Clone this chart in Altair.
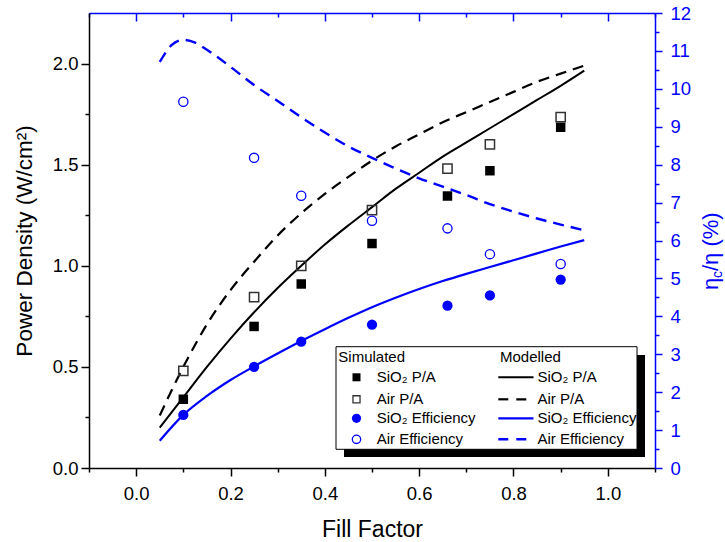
import altair as alt
import pandas as pd

# ---------------- data ----------------
ff_sim = [0.1, 0.25, 0.35, 0.5, 0.66, 0.75, 0.9]
sio2_pa_sim = [0.34, 0.70, 0.91, 1.11, 1.345, 1.47, 1.685]
air_pa_sim = [0.48, 0.845, 1.00, 1.275, 1.48, 1.60, 1.735]
sio2_eff_sim = [1.40, 2.67, 3.33, 3.78, 4.28, 4.55, 4.97]
air_eff_sim = [9.66, 8.18, 7.18, 6.52, 6.32, 5.64, 5.38]

ff_model = [0.05, 0.10, 0.15, 0.20, 0.25, 0.30, 0.35, 0.40, 0.45, 0.50,
            0.55, 0.60, 0.65, 0.70, 0.75, 0.80, 0.85, 0.90, 0.95]
sio2_pa_model = [0.20, 0.35, 0.50, 0.64, 0.77, 0.89, 1.00, 1.105, 1.20, 1.29,
                 1.38, 1.46, 1.54, 1.61, 1.68, 1.75, 1.82, 1.89, 1.965]
air_pa_model = [0.26, 0.50, 0.71, 0.88, 1.02, 1.15, 1.26, 1.355, 1.44, 1.52,
                1.59, 1.65, 1.71, 1.76, 1.81, 1.86, 1.91, 1.95, 1.99]
sio2_eff_model = [0.72, 1.40, 1.90, 2.32, 2.68, 3.02, 3.35, 3.66, 3.96, 4.24,
                  4.49, 4.72, 4.93, 5.12, 5.30, 5.48, 5.66, 5.84, 6.01]
ff_air_eff_model = [0.05, 0.075, 0.10, 0.125, 0.15, 0.20, 0.25, 0.30, 0.35, 0.40,
                    0.45, 0.50, 0.55, 0.60, 0.65, 0.70, 0.75, 0.80, 0.85, 0.90, 0.95]
air_eff_model = [10.71, 11.15, 11.29, 11.22, 11.03, 10.58, 10.10, 9.68, 9.25, 8.85,
                 8.48, 8.18, 7.90, 7.64, 7.42, 7.20, 6.96, 6.76, 6.58, 6.42, 6.27]

x_major_ticks = [0.0, 0.2, 0.4, 0.6, 0.8, 1.0]
x_minor_ticks = [-0.1, 0.1, 0.3, 0.5, 0.7, 0.9, 1.1]
yl_major_ticks = [0.0, 0.5, 1.0, 1.5, 2.0]
yl_minor_ticks = [0.25, 0.75, 1.25, 1.75]
yr_major_ticks = list(range(0, 13))
yr_minor_ticks = [0.5, 1.5, 2.5, 3.5, 4.5, 5.5, 6.5, 7.5, 8.5, 9.5, 10.5, 11.5]

# ---------------- styling ----------------
FONT = "Liberation Sans"
BLUE = "#0000FF"
W, H = 566, 455
OX, OY = 89, 13

sim_df = pd.DataFrame({"ff": ff_sim, "sio2_pa": sio2_pa_sim, "air_pa": air_pa_sim,
                       "sio2_eff": sio2_eff_sim, "air_eff": air_eff_sim})
model_df = pd.DataFrame({"ff": ff_model, "sio2_pa": sio2_pa_model,
                         "air_pa": air_pa_model, "sio2_eff": sio2_eff_model})
air_eff_df = pd.DataFrame({"ff": ff_air_eff_model, "air_eff": air_eff_model})
one = pd.DataFrame({"k": [0]})

x_scale = alt.Scale(domain=[-0.1, 1.1], nice=False, zero=False)
yl_scale = alt.Scale(domain=[0, 2.25], nice=False, zero=False)
yr_scale = alt.Scale(domain=[0, 12], nice=False, zero=False)

common = dict(grid=False, labelFlush=False, labelBound=False, tickWidth=1.5, domainWidth=1.5)

ax_x_major = alt.Axis(orient="bottom", values=x_major_ticks, format=".1f", title="Fill Factor",
                      labelFont=FONT, labelFontSize=18.5, labelColor="black", labelPadding=8,
                      tickColor="black", tickSize=8, domainColor="black",
                      titleFont=FONT, titleFontSize=23, titleFontWeight="normal", titleColor="black",
                      titleY=68, titleBaseline="alphabetic", labelOverlap=False, **common)
ax_x_minor = alt.Axis(orient="bottom", values=x_minor_ticks, labels=False, domain=False,
                      tickColor="black", tickSize=4, title=None, **common)
ax_x_top_major = alt.Axis(orient="bottom", offset=-H, values=x_major_ticks, labels=False,
                          tickColor=BLUE, tickSize=8, domainColor=BLUE, title=None, **common)
ax_x_top_minor = alt.Axis(orient="bottom", offset=-H, values=x_minor_ticks, labels=False,
                          domain=False, tickColor=BLUE, tickSize=4, title=None, **common)

ax_yl_major = alt.Axis(orient="left", values=yl_major_ticks, format=".1f",
                       title="Power Density (W/cm²)",
                       labelFont=FONT, labelFontSize=18.5, labelColor="black", labelPadding=3,
                       tickColor="black", tickSize=8, domainColor="black",
                       titleFont=FONT, titleFontSize=22.5, titleFontWeight="normal", titleColor="black",
                       titleAngle=270, titleX=31 - OX, titleY=H / 2, titleAlign="center",
                       titleBaseline="alphabetic", labelOverlap=False, **common)
ax_yl_minor = alt.Axis(orient="left", values=yl_minor_ticks, labels=False, domain=False,
                       tickColor="black", tickSize=4, title=None, **common)
ax_yr_major = alt.Axis(orient="right", values=yr_major_ticks, format="d",
                       labelFont=FONT, labelFontSize=18.5, labelColor=BLUE, labelPadding=8,
                       tickColor=BLUE, tickSize=7, domainColor=BLUE, title=None,
                       labelOverlap=False, **common)
ax_yr_minor = alt.Axis(orient="right", values=yr_minor_ticks, labels=False, domain=False,
                       tickColor=BLUE, tickSize=4, title=None, **common)


def X(axis):
    return alt.X("ff:Q", scale=x_scale, axis=axis)


# ---------------- data layers ----------------
l_sio2_pa_model = alt.Chart(model_df).mark_line(color="black", strokeWidth=2, interpolate="monotone").encode(
    x=X(ax_x_major), y=alt.Y("sio2_pa:Q", scale=yl_scale, axis=ax_yl_major))
l_air_pa_model = alt.Chart(model_df).mark_line(color="black", strokeWidth=2.2, strokeDash=[11, 7],
                                               interpolate="monotone").encode(
    x=X(ax_x_minor), y=alt.Y("air_pa:Q", scale=yl_scale, axis=ax_yl_minor))
l_sio2_eff_model = alt.Chart(model_df).mark_line(color=BLUE, strokeWidth=2.2, interpolate="monotone").encode(
    x=X(None), y=alt.Y("sio2_eff:Q", scale=yr_scale, axis=ax_yr_major))
l_air_eff_model = alt.Chart(air_eff_df).mark_line(color=BLUE, strokeWidth=2.4, strokeDash=[11, 7],
                                                  interpolate="monotone").encode(
    x=X(None), y=alt.Y("air_eff:Q", scale=yr_scale, axis=ax_yr_minor))

p_sio2_pa = alt.Chart(sim_df).mark_point(shape="square", filled=True, color="black", size=90, opacity=1).encode(
    x=X(ax_x_top_major), y=alt.Y("sio2_pa:Q", scale=yl_scale, axis=None))
p_air_pa = alt.Chart(sim_df).mark_point(shape="square", filled=False, color="#333333", size=85,
                                        strokeWidth=1.5, opacity=1).encode(
    x=X(ax_x_top_minor), y=alt.Y("air_pa:Q", scale=yl_scale, axis=None))
p_sio2_eff = alt.Chart(sim_df).mark_point(shape="circle", filled=True, color=BLUE, size=105, opacity=1).encode(
    x=X(None), y=alt.Y("sio2_eff:Q", scale=yr_scale, axis=None))
p_air_eff = alt.Chart(sim_df).mark_point(shape="circle", filled=False, color=BLUE, size=85,
                                         strokeWidth=1.3, opacity=1).encode(
    x=X(None), y=alt.Y("air_eff:Q", scale=yr_scale, axis=None))

# ---------------- legend (drawn) ----------------
def ptxt(txt, x, y, size=15, color="black", angle=None):
    kw = dict(text=txt, align="left", baseline="middle", font=FONT, fontSize=size, color=color)
    if angle is not None:
        kw["angle"] = angle
        kw["baseline"] = "alphabetic"
    return alt.Chart(one).mark_text(**kw).encode(x=alt.value(x - OX), y=alt.value(y - OY))


shadow = alt.Chart(one).mark_rect(color="black").encode(
    x=alt.value(344 - OX), x2=alt.value(645 - OX), y=alt.value(355 - OY), y2=alt.value(457 - OY))
box = alt.Chart(one).mark_rect(fill="white", stroke="black", strokeWidth=1).encode(
    x=alt.value(336 - OX), x2=alt.value(637 - OX), y=alt.value(346.7 - OY), y2=alt.value(449.3 - OY))

rows = [377.3, 399.3, 418.3, 439.3]
sym_x = 356.5
legend_layers = [shadow, box,
                 ptxt("Simulated", 338.3, 357.3), ptxt("Modelled", 500, 357.3)]
sym_specs = [
    dict(shape="square", filled=True, color="black", size=64),
    dict(shape="square", filled=False, color="#333333", size=50, strokeWidth=1.3),
    dict(shape="circle", filled=True, color=BLUE, size=85),
    dict(shape="circle", filled=False, color=BLUE, size=70, strokeWidth=1.3),
]
line_specs = [
    dict(color="black", strokeWidth=2),
    dict(color="black", strokeWidth=2.2, strokeDash=[10, 8]),
    dict(color=BLUE, strokeWidth=2.2),
    dict(color=BLUE, strokeWidth=2.4, strokeDash=[10, 8]),
]
labels = ["SiO₂ P/A", "Air P/A", "SiO₂ Efficiency", "Air Efficiency"]
for ry, ss, ls, lab in zip(rows, sym_specs, line_specs, labels):
    legend_layers.append(alt.Chart(one).mark_point(opacity=1, **ss).encode(
        x=alt.value(sym_x - OX), y=alt.value(ry - OY)))
    legend_layers.append(ptxt(lab, 376.7, ry))
    legend_layers.append(alt.Chart(one).mark_rule(**ls).encode(
        x=alt.value(498.3 - OX), x2=alt.value(533.5 - OX), y=alt.value(ry - OY)))
    legend_layers.append(ptxt(lab, 537.5, ry))

# right axis title: η_c/η (%) reading upward
rt = [
    ptxt("η", 718, 290, size=22, color=BLUE, angle=270),
    ptxt("c", 722, 278, size=14, color=BLUE, angle=270),
    ptxt("/η (%)", 718, 271, size=22, color=BLUE, angle=270),
]

chart = alt.layer(
    l_sio2_pa_model, l_air_pa_model, l_sio2_eff_model, l_air_eff_model,
    p_sio2_pa, p_air_pa, p_sio2_eff, p_air_eff,
    *legend_layers, *rt
).resolve_scale(y="independent").resolve_axis(x="independent", y="independent").properties(
    width=W, height=H,
    padding={"left": OX, "top": OY, "right": 725 - OX - W, "bottom": 542 - OY - H},
    autosize=alt.AutoSizeParams(type="none"),
).configure_view(stroke=None)

chart.save("out.html", embed_options={"renderer": "svg", "actions": False})
